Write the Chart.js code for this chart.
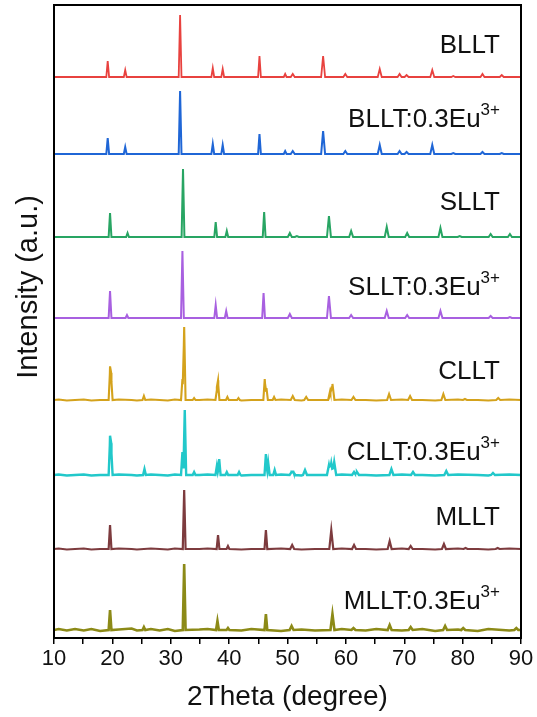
<!DOCTYPE html>
<html>
<head>
<meta charset="utf-8">
<script src="https://cdn.jsdelivr.net/npm/chart.js@4.4.0/dist/chart.umd.min.js"></script>
<style>
  html, body { margin: 0; padding: 0; background: #fff; }
  #wrap { width: 537px; height: 717px; }
</style>
</head>
<body>
<div id="wrap"><canvas id="xrd" width="537" height="717"></canvas></div>
<script>
// sample names (top to bottom) and superscripts
const sampleNames = ["BLLT", "BLLT:0.3Eu", "SLLT", "SLLT:0.3Eu", "CLLT", "CLLT:0.3Eu", "MLLT", "MLLT:0.3Eu"]
const sampleSup = ["", "3+", "", "3+", "", "3+", "", "3+"]

// vertical offset of each pattern (stacked plot)
const offsets = [561, 484, 401, 320, 238, 163, 89, 8]

// x axis
const xTicks = [10, 20, 30, 40, 50, 60, 70, 80, 90]

// peaks: [2theta, intensity above baseline]
const peaksBLLT = [[19.2, 16], [22.2, 7], [31.6, 62], [37.2, 9], [38.9, 8], [45.2, 21], [49.6, 3], [50.9, 3],
  [56.1, 21], [59.9, 3], [65.8, 8], [69.2, 3], [70.4, 2], [74.8, 7], [78.4, 1], [83.4, 3], [86.7, 2]]
const peaksBLLTEu = [[19.2, 16], [22.2, 7], [31.6, 63], [37.2, 10], [38.9, 9], [45.2, 20], [49.6, 3], [50.9, 3],
  [56.1, 23], [59.9, 3], [65.8, 9], [69.2, 3], [70.4, 2], [74.8, 9], [78.4, 1], [83.4, 2], [86.7, 1]]
const peaksSLLT = [[19.6, 24], [22.6, 4], [32.1, 68], [37.7, 15], [39.6, 6], [46.0, 25], [50.4, 4], [51.6, 1],
  [57.1, 21], [60.9, 6], [67.0, 10], [70.5, 4], [76.2, 9], [79.5, 1], [84.8, 3], [88.1, 3]]
const peaksSLLTEu = [[19.6, 27], [22.5, 3], [32.0, 67], [37.7, 13], [39.5, 7], [45.9, 25], [50.4, 4],
  [57.1, 22], [60.9, 3], [67.0, 7], [70.5, 3], [76.2, 7], [84.8, 2], [88.1, 1]]
const peaksCLLT = [[19.6, 30], [19.8, 22], [25.4, 4], [32.0, 21], [32.3, 73], [34.0, 2], [37.9, 10], [38.1, 18],
  [39.7, 3], [41.6, 2], [46.1, 21], [46.4, 12], [47.7, 3], [50.9, 4], [53.2, 3], [57.3, 9], [57.7, 16],
  [61.3, 3], [67.4, 6], [71.0, 4], [76.7, 6], [80.4, 1], [86.1, 2]]
const peaksCLLTEu = [[19.6, 35], [19.8, 26], [25.5, 6], [32.0, 23], [32.4, 65], [34.0, 3], [37.9, 9], [38.3, 16],
  [39.6, 3], [41.7, 3], [46.3, 21], [46.7, 12], [47.8, 5], [50.7, 3], [51.0, 3], [53.0, 5], [57.1, 10],
  [57.5, 12], [58.0, 13], [61.4, 3], [61.9, 3], [67.8, 6], [71.5, 3], [77.2, 4], [85.2, 2]]
const peaksMLLT = [[19.6, 24], [32.3, 59], [38.1, 14], [39.8, 3], [46.3, 19], [50.8, 4], [57.5, 19], [61.4, 4],
  [67.5, 8], [71.1, 3], [76.8, 5], [80.5, 1], [86.0, 1]]
const peaksMLLTEu = [[19.6, 20], [25.4, 3], [32.3, 66], [38.0, 9], [39.8, 2], [46.3, 16], [50.7, 4], [57.7, 16],
  [61.3, 2], [67.5, 5], [71.1, 3], [77.0, 4], [80.1, 2], [89.2, 2]]

// baseline noise
const noiseX = [10.8, 12.2, 13.6, 15.1, 16.4, 17.9, 21.1, 23.3, 24.2, 26.6, 28.1, 29.5, 30.7, 34.9, 36.3,
  42.1, 43.8, 48.9, 52.4, 54.7, 59.3, 63.4, 65.2, 69.6, 73.1, 75.3, 79.2, 82.6, 84.4, 88.0]
const noiseMid = [0.5, -0.5, 0, 0.5, -0.5, 0, 0.5, 0, -0.5, 0.5, 0, -0.5, 0.5, 0, 0.5,
  -0.5, 0, 0.5, -0.5, 0, 0.5, 0, -0.5, 0.5, 0, -0.5, 0.5, 0, -0.5, 0.5]
const noiseHigh = [1, -0.5, 1, -0.5, 1, -1, 0.5, 1.5, -0.5, 1, -0.5, 1, -1, 0.5, 1,
  -0.5, 1, -1, 0.5, -0.5, 1, -0.5, 1, -0.5, 1, -1, 0.5, -1, 1, -0.5]

const allPeaks = [peaksBLLT, peaksBLLTEu, peaksSLLT, peaksSLLTEu, peaksCLLT, peaksCLLTEu, peaksMLLT, peaksMLLTEu]
const allNoise = [null, null, null, null, noiseMid, noiseMid, noiseMid, noiseHigh]

const colors = ["#E8423F", "#1F66D6", "#28A563", "#A860E0", "#D4A21C", "#22C8CA", "#7D3B3E", "#8C8A17"]
const lineWidths = [1.8, 2, 2, 2, 2.1, 2.4, 2.2, 2.6]
const labelLift = [32, 35, 35, 31, 29, 23, 32, 29]

const FONT = "'Liberation Sans', Arial, sans-serif"

function halfWidth(pos) {
  return pos < 50 ? 0.24 : 0.34
}

// build a piecewise line from the read peaks
function buildCurve(peaks, noise, offset) {
  const xs = [10, 90]
  if (noise) xs.push(...noiseX)
  peaks.forEach((p) => {
    const w = halfWidth(p[0])
    xs.push(p[0] - w, p[0], p[0] + w)
  })
  const uniq = Array.from(new Set(xs.map((v) => +v.toFixed(3))))
    .filter((v) => v >= 10 && v <= 90)
    .sort((a, b) => a - b)
  return uniq.map((x) => {
    let y = offset
    peaks.forEach(([pos, h]) => {
      const w = halfWidth(pos)
      const d = Math.abs(x - pos)
      if (d < w) y += h * (1 - d / w)
    })
    const k = noise ? noiseX.indexOf(x) : -1
    if (k >= 0) y += noise[k]
    return { x, y }
  })
}

const datasets = sampleNames.map((name, i) => ({
  label: name + sampleSup[i],
  data: buildCurve(allPeaks[i], allNoise[i], offsets[i]),
  borderColor: colors[i],
  borderWidth: lineWidths[i],
  pointRadius: 0,
  tension: 0,
  fill: false,
}))

// frame, sample labels, y title
const decorPlugin = {
  id: "decor",
  afterDraw(chart) {
    const { ctx, chartArea, scales } = chart
    ctx.save()
    ctx.strokeStyle = "#000"
    ctx.lineWidth = 2
    ctx.strokeRect(chartArea.left, chartArea.top, chartArea.right - chartArea.left, chartArea.bottom - chartArea.top)

    ctx.fillStyle = "#111"
    ctx.textBaseline = "middle"
    const xr = scales.x.getPixelForValue(86.4)
    sampleNames.forEach((name, i) => {
      const y = scales.y.getPixelForValue(offsets[i] + labelLift[i])
      let right = xr
      if (sampleSup[i]) {
        ctx.font = "17px " + FONT
        const sw = ctx.measureText(sampleSup[i]).width
        ctx.textAlign = "right"
        ctx.fillText(sampleSup[i], right, y - 9)
        right -= sw
      }
      ctx.font = "26px " + FONT
      ctx.textAlign = "right"
      ctx.fillText(name, right, y + 1)
    })

    ctx.translate(29, 287)
    ctx.rotate(-Math.PI / 2)
    ctx.textAlign = "center"
    ctx.font = "29px " + FONT
    ctx.fillStyle = "#111"
    ctx.fillText("Intensity (a.u.)", 0, 0)
    ctx.restore()
  },
}

new Chart(document.getElementById("xrd"), {
  type: "line",
  data: { datasets },
  options: {
    responsive: false,
    animation: false,
    layout: { padding: { left: 0, right: 16, top: 5, bottom: 0 } },
    plugins: { legend: { display: false }, tooltip: { enabled: false } },
    scales: {
      x: {
        type: "linear",
        min: xTicks[0],
        max: xTicks[xTicks.length - 1],
        afterFit: (scale) => { scale.height = 79 },
        ticks: {
          stepSize: 5,
          autoSkip: false,
          maxRotation: 0,
          padding: 2,
          color: "#111",
          font: { size: 22, family: FONT },
          callback: (v) => (xTicks.includes(v) ? v : ""),
        },
        grid: { drawOnChartArea: false, tickLength: 6, color: "#000", lineWidth: 1.5 },
        border: { display: false },
        title: {
          display: true,
          text: "2Theta (degree)",
          color: "#111",
          font: { size: 28, family: FONT },
          padding: { top: 0, bottom: 3 },
        },
      },
      y: {
        min: 0,
        max: 633,
        afterFit: (scale) => { scale.width = 54 },
        ticks: { display: false },
        grid: { display: false },
        border: { display: false },
      },
    },
  },
  plugins: [decorPlugin],
})
</script>
</body>
</html>
